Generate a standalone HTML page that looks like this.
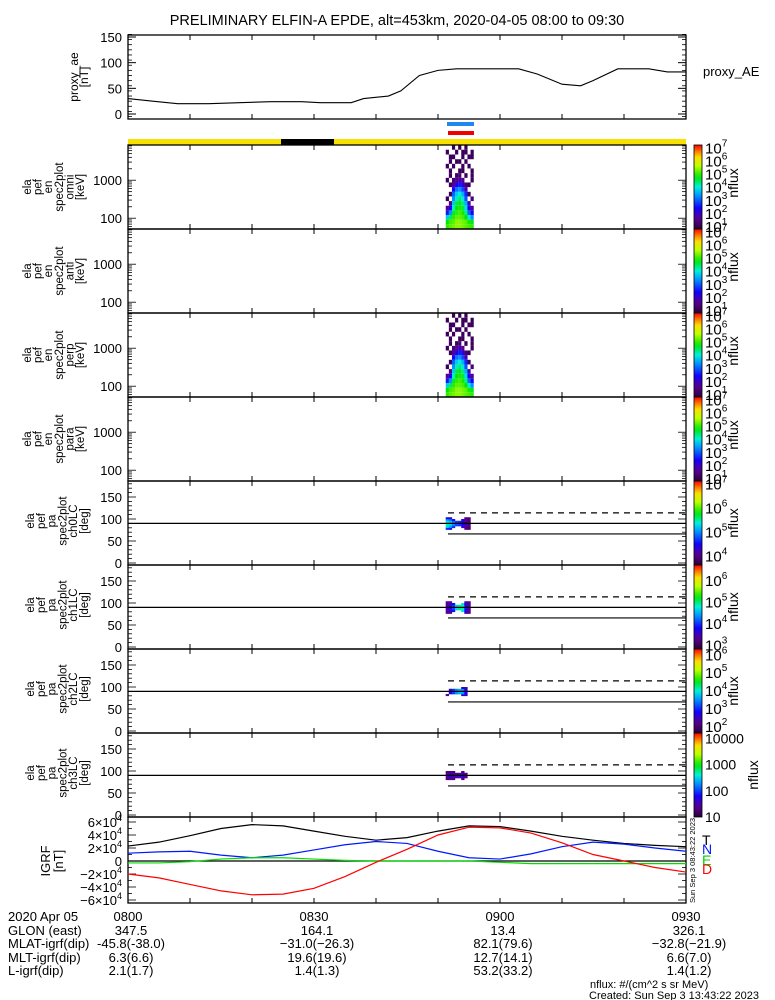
<!DOCTYPE html>
<html><head><meta charset="utf-8"><style>
html,body{margin:0;padding:0;background:#fff;}
svg{display:block;font-family:"Liberation Sans",sans-serif;}
</style></head><body>
<svg id="chart" width="775" height="1000" viewBox="0 0 775 1000" xmlns="http://www.w3.org/2000/svg">
<text x="397" y="25" font-size="14.5" text-anchor="middle">PRELIMINARY ELFIN-A EPDE, alt=453km, 2020-04-05 08:00 to 09:30</text>
</svg>
<script>
// ---------- data ----------
const aeTimes = [0,4,8,13,18,23,28,31,36,38,42,44,47,50,53,63,66,70,73,75,79,84,87,90];
const aeValues = [30,25,20,20,22,24,24,22,22,30,35,45,75,85,88,88,78,58,55,65,88,88,82,82];
const aeTicks = [0,50,100,150];

const grfTimes = [0,5,10,15,20,25,30,35,40,45,50,55,60,65,70,75,80,85,90];
const grfTotal = [23,29,39,50,56,54,46,38,32,36,46,54,53,46,38,32,27,24,22];
const grfNorth = [12,14,15,9,5,9,17,25,30,27,15,5,3,11,22,29,26,20,15];
const grfEast  = [-3,-3,-1,3,5,5,3,1,0,0,0,0,-2,-4,-4,-4,-4,-4,-4];
const grfDown  = [-20,-26,-36,-46,-52,-51,-42,-24,-2,18,40,52,51,43,28,10,0,-10,-17];
const grfTicks = [-60,-40,-20,0,20,40,60];

const specTimes = [51.5,52.0,52.5,53.0,53.5,54.0,54.5,55.0,55.5];
const specEnergies = [60,80,105,140,185,245,325,430,570,760,1000,1330,1770,2350,3100,4100,5500,7300];
const specOmni = [
 [4.8,5.0,5.1,5.2,5.2,5.1,5.0,4.9,4.8],
 [4.6,4.9,5.0,5.2,5.2,5.1,5.0,4.7,4.5],
 [3.6,4.3,4.8,5.0,5.0,4.9,4.6,3.8,3.2],
 [2.4,3.2,4.4,4.8,4.9,4.7,4.1,2.9,2.2],
 [1.5,2.2,3.9,4.6,4.7,4.4,3.7,2.2,1.5],
 [0,1.4,3.6,4.4,4.5,4.2,3.4,1.8,0],
 [1,0,3.2,4.0,4.2,3.8,2.8,0,1.2],
 [0,1,2.9,3.6,3.8,3.4,2.5,1,0],
 [0,0,2.3,3.0,3.2,2.7,1.8,0,0],
 [0,1,1.5,2.2,2.4,2.0,1.2,1,0],
 [1,0,1.2,1.5,1.8,1.4,0,0,1],
 [0,1,0,1,1.2,0,1,0,1],
 [0,1,0,0,1,1,0,0,1],
 [1,0,1,0,0,1,0,1,0],
 [0,1,0,1,1,0,1,0,0],
 [0,1,1,0,0,1,0,1,1],
 [1,0,0,1,0,1,1,0,1],
 [0,0,1,0,1,0,1,0,0]];
const specPerp = specOmni;
const energyTicks = [100,1000];

const paTimes = [51.5,52.0,52.5,53.0,53.5,54.0,54.5,55.0];
const paBins = [78,82,86,90,94,98,102];
const paCh0 = [
 [4.6,4.4,0,0,0,0,4.0,3.9],
 [5.2,5.0,4.6,0,0,4.3,4.0,3.9],
 [5.4,5.2,4.9,4.7,4.6,4.4,4.2,3.9],
 [5.4,5.3,5.0,4.8,4.7,4.5,4.2,3.9],
 [5.3,5.2,4.9,4.7,4.6,4.4,4.1,3.9],
 [5.1,4.9,4.5,0,0,4.3,4.0,3.9],
 [4.5,4.3,0,0,0,0,3.9,3.9]];
const paCh1 = [
 [3.3,3.3,0,0,0,0,3.4,3.3],
 [3.4,3.5,3.8,0,0,4.7,3.6,3.3],
 [3.4,3.6,4.0,4.6,4.9,4.8,3.8,3.3],
 [3.4,3.7,4.1,4.7,5.0,4.9,3.9,3.3],
 [3.4,3.6,4.0,4.6,4.9,4.8,3.8,3.3],
 [3.3,3.5,3.8,0,0,4.7,3.6,3.3],
 [3.3,3.3,0,0,0,0,3.4,3.3]];
const paCh2 = [
 [0,0,0,0,0,0,0,0],
 [2.3,0,0,0,0,2.6,2.5,0],
 [0,2.6,3.0,3.4,3.6,3.5,2.6,0],
 [0,2.7,3.2,3.6,3.8,3.6,2.7,0],
 [0,2.6,3.0,3.4,3.6,3.5,2.6,0],
 [0,0,0,0,0,2.6,2.4,0],
 [0,0,0,0,0,0,0,0]];
const paCh3 = [
 [0,0,0,0,0,0,0,0],
 [1.3,1.4,1.3,0,0,1.3,0,0],
 [1.4,1.6,1.5,1.4,1.5,1.6,1.4,0],
 [1.5,1.7,1.6,1.5,1.6,1.7,1.4,0],
 [1.4,1.6,1.5,1.4,1.5,1.6,1.4,0],
 [1.3,1.3,1.3,0,0,1.3,0,0],
 [0,0,0,0,0,0,0,0]];
const paTicks = [0,50,100,150];
const lossCone = 66, antiLossCone = 114;

const timeLabels = ['0800','0830','0900','0930'];
const glonRow = ['347.5','164.1','13.4','326.1'];
const mlatRow = ['-45.8(-38.0)','\u221231.0(\u221226.3)','82.1(79.6)','\u221232.8(\u221221.9)'];
const mltRow = ['6.3(6.6)','19.6(19.6)','12.7(14.1)','6.6(7.0)'];
const lRow = ['2.1(1.7)','1.4(1.3)','53.2(33.2)','1.4(1.2)'];

// ---------- helpers ----------
const svg = document.getElementById('chart');
const NS = 'http://www.w3.org/2000/svg';
const X0 = 128, X1 = 686;
function xs(t){ return X0 + t*(X1-X0)/90; }
function add(tag, attrs, name, parent){
  const el = document.createElementNS(NS, tag);
  for (const k in attrs) el.setAttribute(k, attrs[k]);
  
  
  (parent||svg).appendChild(el);
  return el;
}
function txt(x,y,s,name,opt){
  const o = Object.assign({x:x,y:y,'font-size':13},opt||{});
  const el = add('text', o, name);
  el.textContent = s;
  return el;
}
const stops = [[0,[40,0,60]],[0.12,[90,0,140]],[0.25,[20,0,255]],[0.4,[0,150,255]],[0.5,[0,240,220]],[0.62,[0,230,0]],[0.75,[190,255,0]],[0.86,[255,220,0]],[1,[255,0,0]]];
function cmap(f){
  f = Math.max(0,Math.min(1,f));
  for (let i=1;i<stops.length;i++){
    if (f<=stops[i][0]){
      const a=stops[i-1],b=stops[i],u=(f-a[0])/(b[0]-a[0]);
      const c=a[1].map((v,j)=>Math.round(v+(b[1][j]-v)*u));
      return 'rgb('+c.join(',')+')';
    }
  }
  return 'rgb(255,0,0)';
}
function line(x1,y1,x2,y2,name,extra){
  return add('line',Object.assign({x1:x1,y1:y1,x2:x2,y2:y2,stroke:'#000','stroke-width':1.2},extra||{}),name);
}
function frameTimeTicks(top,bot,prefix){
  for (let t=0;t<=90;t+=10){
    const x=xs(t);
    line(x,top,x,top+5,prefix+'-x-tick-top',{'stroke-width':1});
    line(x,bot,x,bot-5,prefix+'-x-tick-bottom',{'stroke-width':1});
  }
}
function box(top,bot,prefix){
  add('rect',{x:X0,y:top,width:X1-X0,height:bot-top,fill:'none',stroke:'#000','stroke-width':1.3},prefix+'-frame');
  frameTimeTicks(top,bot,prefix);
}
function ylabel(lines,xStart,step,cy,prefix,fs){
  lines.forEach((s,i)=>{
    const x = xStart+i*step;
    const el = add('text',{transform:'translate('+x+','+cy+') rotate(-90)','text-anchor':'middle','font-size':fs||11.5},prefix+'-ylabel-line');
    el.textContent = s;
  });
}
function colorbar(top,bot,name){
  const id='g'+Math.round(top);
  const defs = add('defs',{},name+'-defs');
  const g = add('linearGradient',{id:id,x1:0,y1:1,x2:0,y2:0},name+'-gradient',defs);
  for (let i=0;i<=20;i++){
    add('stop',{offset:i/20,'stop-color':cmap(i/20)},name+'-stop',g);
  }
  add('rect',{x:694,y:top,width:8,height:bot-top,fill:'url(#'+id+')',stroke:'#000','stroke-width':0.8},name);
}
function pow(y,exp,name){
  const el = add('text',{x:705,y:y+6,'font-size':15},name);
  el.textContent='10';
  const s = document.createElementNS(NS,'tspan');
  s.setAttribute('dy','-7'); s.setAttribute('font-size','10');
  s.textContent = exp;
  el.appendChild(s);
}

// ---------- proxy AE ----------
const aeTop=35, aeBot=119;
function yAE(v){ return 114 - v*(114-37)/150; }
box(aeTop,aeBot,'proxy-ae');
aeTicks.forEach(v=>{
  txt(122,yAE(v)+5,String(v),'proxy-ae-tick-label',{'text-anchor':'end'});
  line(X0,yAE(v),X0+8,yAE(v),'proxy-ae-major-tick',{'stroke-width':1});
  line(X1,yAE(v),X1-8,yAE(v),'proxy-ae-major-tick-right',{'stroke-width':1});
});
for (let v=-5; v<=155; v+=10){ line(X0,yAE(v),X0+4,yAE(v),'proxy-ae-minor-tick',{'stroke-width':0.8}); line(X1,yAE(v),X1-4,yAE(v),'proxy-ae-minor-tick-right',{'stroke-width':0.8}); }
add('polyline',{points:aeTimes.map((t,i)=>xs(t)+','+yAE(aeValues[i])).join(' '),fill:'none',stroke:'#000','stroke-width':1.1},'proxy-ae-line');
ylabel(['proxy_ae','[nT]'],78,10,77,'proxy-ae',12);
txt(703,76,'proxy_AE','proxy-ae-legend',{'font-size':13});

// status bars
add('rect',{x:447,y:122,width:27,height:4,fill:'#1e88f0'},'science-zone-bar-blue');
add('rect',{x:448,y:131,width:26,height:4,fill:'#f00000'},'science-zone-bar-red');
add('rect',{x:X0,y:139,width:X1-X0,height:6,fill:'#f8e000'},'sunlight-bar');
add('rect',{x:281,y:139,width:53,height:6,fill:'#000'},'eclipse-bar');

// ---------- spectrogram panels ----------
const tops=[145,229,313,397,481,565,649,733];
const H=84;
function yE(top,e){ return top+84 - (Math.log10(e)-Math.log10(52))*38; }
const eNames=['omni','anti','perp','para'];
const eData=[specOmni,null,specPerp,null];
for (let p=0;p<4;p++){
  const top=tops[p], bot=top+H, nm='energy-'+eNames[p];
  if (eData[p]){
    const m=eData[p];
    specEnergies.forEach((e,i)=>{
      const eLo = i===0?52:Math.sqrt(specEnergies[i-1]*e);
      const eHi = i===specEnergies.length-1?8300:Math.sqrt(specEnergies[i+1]*e);
      specTimes.forEach((t,j)=>{
        const v=m[i][j]; if(!v) return;
        const y1=Math.max(top,yE(top,eHi)), y2=Math.min(bot,yE(top,eLo));
        add('rect',{x:xs(t)-1.55,y:y1,width:3.2,height:y2-y1,fill:cmap((v-0.7)/6.3)},nm+'-cell');
      });
    });
  }
  box(top,bot,nm);
  energyTicks.forEach(e=>txt(122,yE(top,e)+5,String(e),nm+'-tick-label',{'text-anchor':'end'}));
  [60,70,80,90,100,200,300,400,500,600,700,800,900,1000,2000,3000,4000,5000,6000,7000,8000].forEach(e=>{
    const y=yE(top,e); if(y<top||y>bot) return;
    const L=(e===100||e===1000)?8:4;
    line(X0,y,X0+L,y,nm+'-y-tick',{'stroke-width':0.8});
    line(X1,y,X1-L,y,nm+'-y-tick-right',{'stroke-width':0.8});
  });
  ylabel(['ela','pef','en','spec2plot',eNames[p],'[keV]'],31,10.6,top+42,nm);
  colorbar(top,bot,nm+'-colorbar');
  [1,2,3,4,5,6,7].forEach(k=>pow(bot-3-(k-1)*13.1,String(k),nm+'-colorbar-label'));
  const n=add('text',{transform:'translate(738,'+(top+38)+') rotate(-90)','text-anchor':'middle','font-size':14},nm+'-colorbar-title'); n.textContent='nflux';
}

// ---------- pitch angle panels ----------
function yP(top,d){ return top+82 - d*0.44; }
const paData=[paCh0,paCh1,paCh2,paCh3];
const paRange=[[3.6,7.1],[2.8,6.7],[1.6,6.3],[1,4.2]];
for (let p=0;p<4;p++){
  const top=tops[p+4], bot=top+H, nm='pitch-angle-ch'+p;
  const m=paData[p], r=paRange[p];
  paBins.forEach((d,i)=>{
    paTimes.forEach((t,j)=>{
      const v=m[i][j]; if(!v) return;
      add('rect',{x:xs(t)-1.6,y:yP(top,d+2),width:3.3,height:0.44*4+0.3,fill:cmap((v-r[0])/(r[1]-r[0]))},nm+'-cell');
    });
  });
  box(top,bot,nm);
  line(X0,yP(top,90),X1,yP(top,90),nm+'-90deg-line',{'stroke-width':1.2});
  line(448,yP(top,antiLossCone),X1,yP(top,antiLossCone),nm+'-antiloss-cone-line',{'stroke-dasharray':'6,5','stroke-width':1.2});
  line(448,yP(top,lossCone),X1,yP(top,lossCone),nm+'-loss-cone-line',{'stroke-width':1.2});
  paTicks.forEach(v=>txt(122,yP(top,v)+5,String(v),nm+'-tick-label',{'text-anchor':'end'}));
  for (let v=-10; v<=180; v+=10){
    const y=yP(top,v); if(y<top||y>bot) continue;
    const L=(v%50===0)?8:4;
    line(X0,y,X0+L,y,nm+'-y-tick',{'stroke-width':0.8});
    line(X1,y,X1-L,y,nm+'-y-tick-right',{'stroke-width':0.8});
  }
  ylabel(['ela','pef','pa','spec2plot','ch'+p+'LC','[deg]'],34,10.8,top+40,nm);
  colorbar(top,bot,nm+'-colorbar');
  const span=r[1]-r[0];
  if (p<3){
    for (let k=Math.ceil(r[0]);k<=Math.floor(r[1]);k++){
      pow(bot-(k-r[0])/span*H,String(k),nm+'-colorbar-label');
    }
  } else {
    [1,2,3,4].forEach(k=>txt(705,bot-(k-r[0])/span*H+5,['10','100','1000','10000'][k-1],nm+'-colorbar-label',{'font-size':14}));
  }
  const n=add('text',{transform:'translate('+(p<3?738:758)+','+(top+42)+') rotate(-90)','text-anchor':'middle','font-size':14},nm+'-colorbar-title'); n.textContent='nflux';
}

// ---------- IGRF ----------
const gTop=817, gBot=903;
function yG(v){ return 861 - v*0.65; }
box(gTop,gBot,'igrf');
line(X0,yG(0),X1,yG(0),'igrf-zero-line',{'stroke-width':1.2});
grfTicks.forEach(v=>{
  const el = add('text',{x:122,y:yG(v)+5,'font-size':13,'text-anchor':'end'},'igrf-tick-label');
  if (v===0){ el.textContent='0'; }
  else {
    el.textContent=(v<0?'\u2212':'')+Math.abs(v/10)+'\u00d710';
    const s=document.createElementNS(NS,'tspan'); s.setAttribute('dy','-6'); s.setAttribute('font-size','9'); s.textContent='4'; el.appendChild(s);
  }
});
for (let v=-60; v<=60; v+=10){ line(X0,yG(v),X0+(v%20===0?8:4),yG(v),'igrf-y-tick',{'stroke-width':0.8}); line(X1,yG(v),X1-(v%20===0?8:4),yG(v),'igrf-y-tick-right',{'stroke-width':0.8}); }
[[grfTotal,'#000','igrf-total-line'],[grfNorth,'#0018ff','igrf-north-line'],[grfEast,'#00e000','igrf-east-line'],[grfDown,'#ff0000','igrf-down-line']].forEach(s=>{
  add('polyline',{points:grfTimes.map((t,i)=>xs(t)+','+yG(s[0][i])).join(' '),fill:'none',stroke:s[1],'stroke-width':1.2},s[2]);
});
ylabel(['IGRF','[nT]'],50,13,861,'igrf',13);
[['T','#000',845],['N','#0018ff',854],['E','#00d000',865],['D','#ff0000',874]].forEach(l=>txt(702,l[2],l[0],'igrf-legend-'+l[0],{fill:l[1],'font-size':14}));
const stamp=add('text',{transform:'translate(695,903) rotate(-90)','font-size':7.5},'creation-stamp-vertical'); stamp.textContent='Sun Sep  3 08:43:22 2023';

// ---------- bottom annotation ----------
const rowY=[921,935,948,962,975];
txt(8,rowY[0],'2020 Apr 05','date-label');
txt(8,rowY[1],'GLON (east)','glon-label');
txt(8,rowY[2],'MLAT-igrf(dip)','mlat-label');
txt(8,rowY[3],'MLT-igrf(dip)','mlt-label');
txt(8,rowY[4],'L-igrf(dip)','l-label');
[timeLabels,glonRow,mlatRow,mltRow,lRow].forEach((row,r)=>{
  row.forEach((s,i)=>txt(xs(i*30)+(r===0?0:3),rowY[r],s,'orbit-value-row'+r,{'text-anchor':'middle'}));
});
txt(590,988,'nflux: #/(cm^2 s sr MeV)','flux-units-note',{'font-size':11});
txt(589,999,'Created: Sun Sep  3 13:43:22 2023','created-note',{'font-size':11});
</script>
</body></html>
